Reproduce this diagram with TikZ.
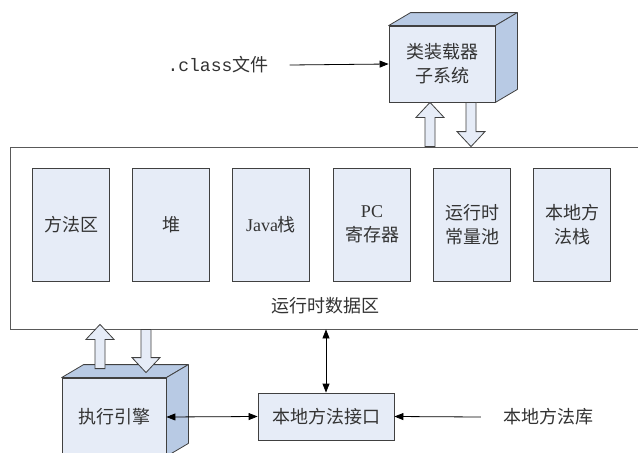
\documentclass[tikz,border=0pt]{standalone}
\usepackage{fontspec}
\setmainfont{Liberation Serif}
\setmonofont{Liberation Mono}
\newfontfamily\cjk{Noto Sans CJK SC}
\usetikzlibrary{arrows.meta, calc}
\definecolor{boxfill}{RGB}{230,236,247}
\definecolor{sidefill}{RGB}{184,202,228}

% top and right faces of a box drawn as a block
\newcommand{\cubefaces}[1]{%
  \draw[face] (#1.north west) -- ++(22,-13) -- ($(#1.north east)+(22,-13)$) -- (#1.north east) -- cycle;
  \draw[face] (#1.north east) -- ++(22,-13) -- ($(#1.south east)+(22,-13)$) -- (#1.south east) -- cycle;}
% hollow block arrow from #1 to #2 (vertical)
\newcommand{\fatarrow}[2]{%
  \draw[fat] let \p1=(#1), \p2=(#2), \p3=($(#2)!15pt!(#1)$) in
    (\x1-5pt,\y1) -- (\x1-5pt,\y3) -- (\x1-14pt,\y3) -- (\x2,\y2)
    -- (\x1+14pt,\y3) -- (\x1+5pt,\y3) -- (\x1+5pt,\y1) -- cycle;}

\begin{document}
\begin{tikzpicture}[x=1pt, y=-1pt,
  font=\cjk\fontsize{18}{24}\selectfont, text=black!80,
  area/.style={draw=black!65, line width=0.8pt, fill=white,
               minimum width=635, minimum height=182},
  membox/.style={draw=black!75, line width=0.8pt, fill=boxfill,
                 minimum width=77, minimum height=113, align=center, inner sep=0},
  cubebox/.style={draw=black!75, line width=0.8pt, fill=boxfill, align=center, inner sep=0},
  face/.style={draw=black!75, line width=0.8pt, fill=sidefill, line join=round},
  fat/.style={draw=black!75, line width=0.8pt, fill=boxfill, line join=miter},
  label/.style={inner sep=0},
  arr/.style={line width=0.8pt, -{Triangle[length=9pt, width=7pt]}},
  arrs/.style={line width=0.8pt, {Triangle[length=9pt, width=7pt]}-{Triangle[length=9pt, width=7pt]}},
]
\clip (0,0) rectangle (638,453);
\fill[white] (0,0) rectangle (638,453);

% runtime data area
\node[area] (data) at (327.5,238) {};
\node[label] (datalbl) at (325,306) {运行时数据区};
\node[membox] (method) at (71,224.5) {方法区};
\node[membox] (heap) at (171,224.5) {堆};
\node[membox] (jstack) at (271,224.5) {{\rmfamily Java}栈};
\node[membox] (pc) at (372,224.5) {{\rmfamily PC}\\寄存器};
\node[membox] (pool) at (472,224.5) {运行时\\常量池};
\node[membox] (nstack) at (572,224.5) {本地方\\法栈};

% class loader
\node[cubebox, minimum width=106, minimum height=76] (loader) at (442,64) {类装载器\\子系统};
\cubefaces{loader}
\node[label] (cls) at (218,65) {{\ttfamily .class}文件};
\draw[arr] ([xshift=21pt]cls.east) -- (loader.west);
\fatarrow{data.north -| 430,0}{loader.south -| 430,0}
\fatarrow{loader.south -| 471,0}{data.north -| 471,0}

% execution engine
\node[cubebox, minimum width=104, minimum height=78] (engine) at (114,417) {执行引擎};
\cubefaces{engine}
\fatarrow{$(engine.north -| 100,0)+(0,-9)$}{$(data.south -| 100,0)+(0,-5)$}
\fatarrow{data.south -| 146,0}{$(engine.north -| 146,0)+(0,-5)$}

% native interface
\node[cubebox, minimum width=136, minimum height=47] (jni) at (326,416.5) {本地方法接口};
\node[label] (lib) at (548,417) {本地方法库};
\draw[arrs] (data.south -| jni.north) -- (jni.north);
\draw[arrs] (engine.east) -- (jni.west);
\draw[arr] ([xshift=-22pt]lib.west) -- (jni.east);
\end{tikzpicture}
\end{document}
